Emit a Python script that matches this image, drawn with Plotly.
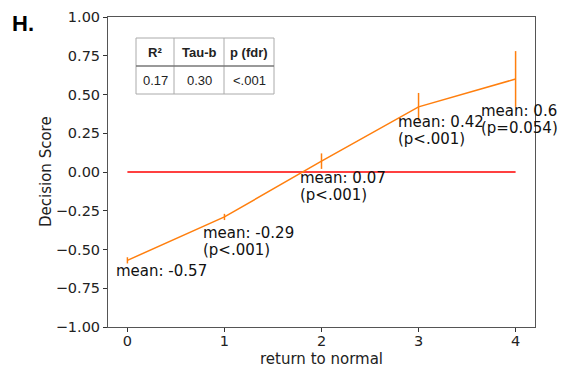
import plotly.graph_objects as go

# ---- data ----
levels = [0, 1, 2, 3, 4]
means = [-0.57, -0.29, 0.07, 0.42, 0.60]
errors = [0.02, 0.02, 0.05, 0.09, 0.18]
p_labels = ["", "(p<.001)", "(p<.001)", "(p<.001)", "(p=0.054)"]
y_ticks = [-1.0, -0.75, -0.5, -0.25, 0.0, 0.25, 0.5, 0.75, 1.0]
table_headers = ["R²", "Tau-b", "p (fdr)"]
table_values = ["0.17", "0.30", "<.001"]
x_title = "return to normal"
y_title = "Decision Score"

# ---- layout constants ----
W, H = 564, 370
ML, MR, MT, MB = 108, 29, 17, 43
PW, PH = W - ML - MR, H - MT - MB
ORANGE = "#ff7f0e"
FONT = "DejaVu Sans"

fig = go.Figure()

# zero reference line
fig.add_trace(go.Scatter(x=[levels[0], levels[-1]], y=[0, 0], mode="lines",
                         line=dict(color="#ff0000", width=1.4),
                         hoverinfo="skip", showlegend=False))

fig.add_trace(go.Scatter(
    x=levels, y=means, mode="lines",
    line=dict(color=ORANGE, width=1.5),
    error_y=dict(type="data", array=errors, visible=True, color=ORANGE,
                 thickness=1.5, width=0),
    showlegend=False))

# label offsets (pixels) relative to each point: (dx, dy of first line, dy of second line)
offsets = [(-13, 11, 28), (-23, 16, 33), (-24, 17, 34), (-23, 15, 32), (-37, 32, 49)]
annotations = []
xr = (-0.2, 4.2)
yr = (-1.0, 1.0)
for x, m, p, (dx, dy1, dy2) in zip(levels, means, p_labels, offsets):
    for txt, dy in ((f"mean: {m:g}", dy1), (p, dy2)):
        if not txt:
            continue
        annotations.append(dict(
            x=x, y=m, xref="x", yref="y", text=txt, showarrow=False,
            xshift=dx, yshift=-dy, xanchor="left", yanchor="middle", align="left",
            font=dict(family=FONT, size=15, color="#111111")))


def px_to_paper(px, py):
    return (px - ML) / PW, 1 - (py - MT) / PH


# axis titles
tx, ty = px_to_paper((ML + W - MR) / 2, 359)
annotations.append(dict(x=tx, y=ty, xref="paper", yref="paper", text=x_title,
                        showarrow=False, xanchor="center", yanchor="middle",
                        font=dict(family=FONT, size=15, color="#222")))
tx, ty = px_to_paper(46, MT + PH / 2)
annotations.append(dict(x=tx, y=ty, xref="paper", yref="paper", text=y_title,
                        showarrow=False, xanchor="center", yanchor="middle", textangle=-90,
                        font=dict(family=FONT, size=15, color="#222")))

# panel letter
hx, hy = px_to_paper(10, 23)
annotations.append(dict(x=hx, y=hy, xref="paper", yref="paper",
                        text="<b>H.</b>", showarrow=False, xanchor="left",
                        yanchor="middle", font=dict(family="Liberation Sans", size=22, color="#000")))

shapes = []
col_edges = [136, 174, 224, 274]
row_edges = [38, 66, 94]
x0, y0 = px_to_paper(col_edges[0], row_edges[0])
x1, y1 = px_to_paper(col_edges[-1], row_edges[-1])
shapes.append(dict(type="rect", xref="paper", yref="paper", x0=x0, x1=x1, y0=y1, y1=y0,
                   line=dict(color="#aaaaaa", width=1), fillcolor="white", layer="above"))
for cx in col_edges[1:-1]:
    xx, _ = px_to_paper(cx, 0)
    shapes.append(dict(type="line", xref="paper", yref="paper", x0=xx, x1=xx, y0=y1, y1=y0,
                       line=dict(color="#aaaaaa", width=1), layer="above"))
_, ym = px_to_paper(0, row_edges[1])
shapes.append(dict(type="line", xref="paper", yref="paper", x0=x0, x1=x1, y0=ym, y1=ym,
                   line=dict(color="#777777", width=1.5), layer="above"))

for i in range(3):
    cx = (col_edges[i] + col_edges[i + 1]) / 2
    for r, (txt, bold) in enumerate([(table_headers[i], True), (table_values[i], False)]):
        cy = (row_edges[r] + row_edges[r + 1]) / 2
        ax_, ay_ = px_to_paper(cx, cy)
        annotations.append(dict(x=ax_, y=ay_, xref="paper", yref="paper",
                                text=f"<b>{txt}</b>" if bold else txt, showarrow=False,
                                xanchor="center", yanchor="middle",
                                font=dict(family="Liberation Sans", size=13, color="#222")))

fig.update_layout(
    width=W, height=H, margin=dict(l=ML, r=MR, t=MT, b=MB, autoexpand=False),
    paper_bgcolor="white", plot_bgcolor="white",
    annotations=annotations, shapes=shapes,
    xaxis=dict(range=list(xr), tickvals=levels, ticks="outside", ticklen=4,
               tickcolor="#333", showgrid=False, zeroline=False, automargin=False,
               showline=True, linecolor="#555", linewidth=1, mirror=True,
               ticklabelstandoff=-3,
               tickfont=dict(family=FONT, size=14.5, color="#222")),
    yaxis=dict(range=list(yr), tickvals=y_ticks, tickformat=".2f", ticks="outside",
               ticklen=4, tickcolor="#333", showgrid=False, zeroline=False, automargin=False,
               showline=True, linecolor="#555", linewidth=1, mirror=True,
               tickfont=dict(family=FONT, size=14.5, color="#222")),
)

fig.write_html("out.html")
